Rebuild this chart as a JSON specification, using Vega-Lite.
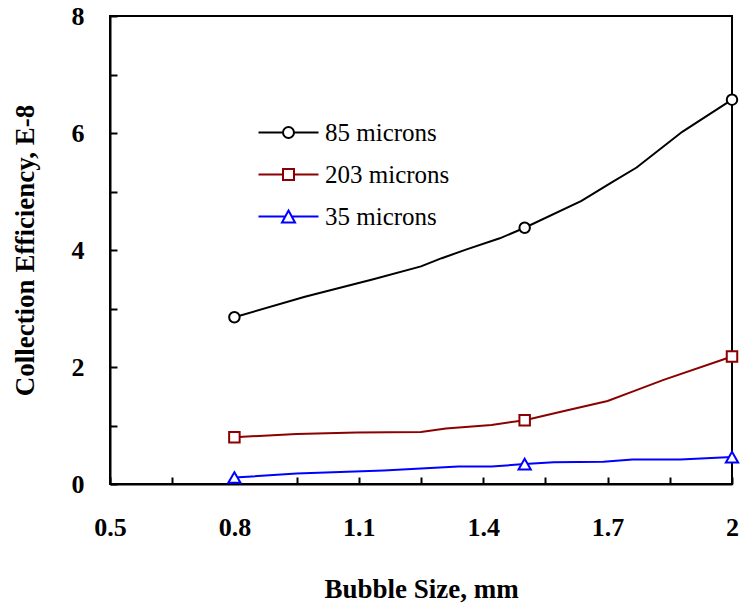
{
  "$schema": "https://vega.github.io/schema/vega-lite/v6.json",
  "width": 622,
  "height": 468,
  "autosize": {"type": "none"},
  "padding": {"left": 110, "top": 16, "right": 9, "bottom": 122},
  "background": "white",
  "config": {
    "font": "Liberation Serif",
    "view": {"stroke": "black", "strokeWidth": 2},
    "axis": {
      "domainColor": "black",
      "domainWidth": 2,
      "tickColor": "black",
      "tickWidth": 2,
      "tickSize": -7,
      "grid": false,
      "labelFont": "Liberation Serif",
      "labelFontSize": 26,
      "labelFontWeight": "bold",
      "labelColor": "black",
      "labelFlush": false,
      "labelOverlap": false,
      "titleFont": "Liberation Serif",
      "titleFontSize": 27,
      "titleFontWeight": "bold",
      "titleColor": "black"
    }
  },
  "data": {
    "values": [
      {"series": "85 microns", "size": 0.8, "eff": 2.85},
      {"series": "85 microns", "size": 0.97, "eff": 3.2},
      {"series": "85 microns", "size": 1.135, "eff": 3.5},
      {"series": "85 microns", "size": 1.25, "eff": 3.72},
      {"series": "85 microns", "size": 1.3, "eff": 3.86},
      {"series": "85 microns", "size": 1.36, "eff": 4.01},
      {"series": "85 microns", "size": 1.44, "eff": 4.2},
      {"series": "85 microns", "size": 1.5, "eff": 4.38},
      {"series": "85 microns", "size": 1.637, "eff": 4.84},
      {"series": "85 microns", "size": 1.706, "eff": 5.14},
      {"series": "85 microns", "size": 1.77, "eff": 5.41},
      {"series": "85 microns", "size": 1.88, "eff": 6.02},
      {"series": "85 microns", "size": 2, "eff": 6.57},
      {"series": "203 microns", "size": 0.8, "eff": 0.8},
      {"series": "203 microns", "size": 0.95, "eff": 0.855},
      {"series": "203 microns", "size": 1.095, "eff": 0.88},
      {"series": "203 microns", "size": 1.25, "eff": 0.89},
      {"series": "203 microns", "size": 1.31, "eff": 0.95},
      {"series": "203 microns", "size": 1.42, "eff": 1.01},
      {"series": "203 microns", "size": 1.5, "eff": 1.09},
      {"series": "203 microns", "size": 1.59, "eff": 1.24},
      {"series": "203 microns", "size": 1.7, "eff": 1.42},
      {"series": "203 microns", "size": 1.76, "eff": 1.58},
      {"series": "203 microns", "size": 1.835, "eff": 1.78},
      {"series": "203 microns", "size": 2, "eff": 2.18},
      {"series": "35 microns", "size": 0.8, "eff": 0.11},
      {"series": "35 microns", "size": 0.95, "eff": 0.18},
      {"series": "35 microns", "size": 1.16, "eff": 0.23},
      {"series": "35 microns", "size": 1.34, "eff": 0.3},
      {"series": "35 microns", "size": 1.42, "eff": 0.3},
      {"series": "35 microns", "size": 1.5, "eff": 0.34},
      {"series": "35 microns", "size": 1.57, "eff": 0.37},
      {"series": "35 microns", "size": 1.69, "eff": 0.38},
      {"series": "35 microns", "size": 1.76, "eff": 0.42},
      {"series": "35 microns", "size": 1.875, "eff": 0.42},
      {"series": "35 microns", "size": 2, "eff": 0.46}
    ]
  },
  "encoding": {
    "x": {
      "field": "size",
      "type": "quantitative",
      "scale": {"domain": [0.5, 2], "nice": false, "zero": false},
      "axis": {
        "title": "Bubble Size, mm",
        "values": [0.5, 0.65, 0.8, 0.95, 1.1, 1.25, 1.4, 1.55, 1.7, 1.85, 2],
        "format": "~g",
        "labelExpr": "(datum.value == 0.5 || datum.value == 0.8 || datum.value == 1.1 || datum.value == 1.4 || datum.value == 1.7 || datum.value == 2) ? datum.label : ''",
        "labelPadding": 37,
        "titleX": 311,
        "titleY": 113,
        "titleAlign": "center",
        "titleBaseline": "alphabetic"
      }
    },
    "y": {
      "field": "eff",
      "type": "quantitative",
      "scale": {"domain": [0, 8], "nice": false},
      "axis": {
        "title": "Collection Efficiency, E-8",
        "values": [0, 1, 2, 3, 4, 5, 6, 7, 8],
        "format": "~g",
        "labelExpr": "datum.value % 2 == 0 ? datum.label : ''",
        "labelPadding": 33,
        "titleAngle": -90,
        "titleX": -77,
        "titleY": 234,
        "titleAlign": "center",
        "titleBaseline": "alphabetic"
      }
    },
    "color": {
      "field": "series",
      "type": "nominal",
      "scale": {
        "domain": ["85 microns", "203 microns", "35 microns"],
        "range": ["#000000", "#8b0000", "#0000ff"]
      },
      "legend": null
    }
  },
  "layer": [
    {
      "mark": {"type": "line", "strokeWidth": 2},
      "encoding": {
        "color": {
          "field": "series",
          "type": "nominal",
          "scale": {
            "domain": ["85 microns", "203 microns", "35 microns"],
            "range": ["#000000", "#8b0000", "#0000ff"]
          },
          "legend": {
            "title": null,
            "orient": "none",
            "legendX": 166,
            "legendY": 104,
            "padding": 0,
            "symbolSize": 100,
            "symbolStrokeWidth": 2,
            "labelFont": "Liberation Serif",
            "labelFontSize": 25,
            "labelFontWeight": "normal",
            "labelColor": "black",
            "labelOffset": 24,
            "rowPadding": 16,
            "encode": {
              "symbols": {
                "update": {
                  "shape": {"signal": "datum.value == '85 microns' ? 'M-6,0H-1.1M1.1,0H6M1.1,0A1.1,1.1,0,1,1,-1.1,0A1.1,1.1,0,1,1,1.1,0Z' : datum.value == '203 microns' ? 'M-6,0H-1.1M1.1,0H6M-1.1,-1.1H1.1V1.1H-1.1Z' : 'M-6,0H-0.65M0.65,0H6M0,-1.2L1.3,1.2H-1.3Z'"},
                  "stroke": {"scale": "color", "field": "value"},
                  "fill": {"value": "white"},
                  "strokeWidth": {"value": 2},
                  "opacity": {"value": 1}
                }
              }
            }
          }
        }
      }
    },
    {
      "transform": [
        {"filter": {"field": "size", "oneOf": [0.8, 1.5, 2]}},
        {"filter": {"field": "series", "equal": "85 microns"}}
      ],
      "mark": {"type": "point", "shape": "circle", "size": 110, "filled": false, "fill": "white", "fillOpacity": 1, "opacity": 1, "strokeWidth": 2}
    },
    {
      "transform": [
        {"filter": {"field": "size", "oneOf": [0.8, 1.5, 2]}},
        {"filter": {"field": "series", "equal": "203 microns"}}
      ],
      "mark": {"type": "point", "shape": "square", "size": 110, "filled": false, "fill": "white", "fillOpacity": 1, "opacity": 1, "strokeWidth": 2}
    },
    {
      "transform": [
        {"filter": {"field": "size", "oneOf": [0.8, 1.5, 2]}},
        {"filter": {"field": "series", "equal": "35 microns"}}
      ],
      "mark": {"type": "point", "shape": "triangle-up", "size": 150, "filled": false, "fill": "white", "fillOpacity": 1, "opacity": 1, "strokeWidth": 2}
    }
  ]
}
